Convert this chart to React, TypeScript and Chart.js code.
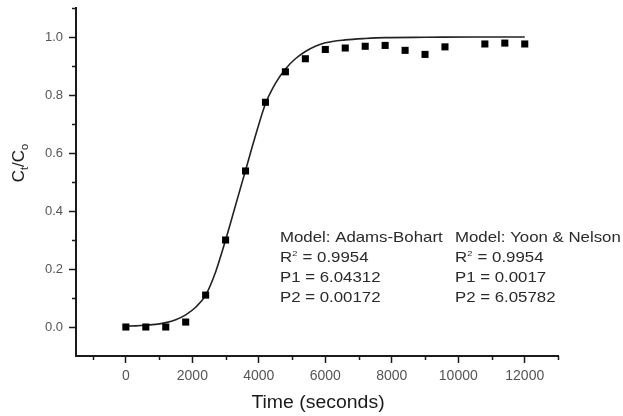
import React, { useEffect, useRef } from "react";
import { Chart, registerables } from "chart.js";

Chart.register(...registerables);

// Measured data points (time in seconds, Ct/Co)
const sampleTimes = [0, 600, 1200, 1800, 2400, 3000, 3600, 4200, 4800, 5400, 6000, 6600, 7200, 7800, 8400, 9000, 9600, 10800, 11400, 12000];
const sampleValues = [0.0, 0.0, 0.0, 0.017, 0.11, 0.30, 0.538, 0.775, 0.88, 0.925, 0.957, 0.962, 0.968, 0.971, 0.954, 0.94, 0.966, 0.976, 0.979, 0.976];

// Fitted model curve
const fitTimes = [0, 300, 600, 900, 1200, 1500, 1800, 2100, 2400, 2700, 3000, 3300, 3600, 3900, 4200, 4500, 4800, 5100, 5400, 5700, 6000, 6600, 7200, 7800, 9000, 10500, 12000];
const fitValues = [0.003, 0.004, 0.006, 0.009, 0.015, 0.025, 0.042, 0.068, 0.11, 0.19, 0.30, 0.42, 0.54, 0.66, 0.77, 0.84, 0.89, 0.925, 0.95, 0.968, 0.98, 0.99, 0.995, 0.998, 0.999, 1.0, 1.0];

// Axis ticks
const xMajorTicks = [0, 2000, 4000, 6000, 8000, 10000, 12000];
const xMinorTicks = [-1000, 1000, 3000, 5000, 7000, 9000, 11000, 13000];
const yMajorTicks = [0.0, 0.2, 0.4, 0.6, 0.8, 1.0];
const yMinorTicks = [0.1, 0.3, 0.5, 0.7, 0.9, 1.1];

// Annotation texts
const modelLeft = ["Model: Adams-Bohart", "R|2| = 0.9954", "P1 = 6.04312", "P2 = 0.00172"];
const modelRight = ["Model: Yoon & Nelson", "R|2| = 0.9954", "P1 = 0.0017", "P2 = 6.05782"];

const FONT = "'Liberation Sans', Arial, sans-serif";
const AXIS_COLOR = "#1a1a1a";

function drawStretched(ctx: CanvasRenderingContext2D, text: string, x: number, y: number, size: number, sx: number) {
  // supports "R|2| = ..." superscript syntax
  ctx.save();
  ctx.translate(x, y);
  ctx.scale(sx, 1);
  const parts = text.split("|");
  let cx = 0;
  parts.forEach((p, i) => {
    const sup = i % 2 === 1;
    ctx.font = `${sup ? size * 0.55 : size}px ${FONT}`;
    ctx.fillText(p, cx, sup ? -size * 0.42 : 0);
    cx += ctx.measureText(p).width + (sup ? 0.5 : 0);
  });
  ctx.restore();
}

const overlayPlugin = {
  id: "overlay",
  afterDraw(chart: any) {
    const ctx: CanvasRenderingContext2D = chart.ctx;
    const xs = chart.scales.x;
    const ys = chart.scales.y;
    const area = chart.chartArea;
    ctx.save();
    // minor ticks
    ctx.strokeStyle = AXIS_COLOR;
    ctx.lineWidth = 1.5;
    ctx.beginPath();
    xMinorTicks.forEach((v) => {
      const px = Math.round(xs.getPixelForValue(v)) + 0.5;
      ctx.moveTo(px, area.bottom);
      ctx.lineTo(px, area.bottom + 4);
    });
    yMinorTicks.forEach((v) => {
      const py = Math.round(ys.getPixelForValue(v)) + 0.5;
      ctx.moveTo(area.left, py);
      ctx.lineTo(area.left - 4, py);
    });
    ctx.stroke();

    // annotations
    ctx.fillStyle = "#2a2a2a";
    ctx.textBaseline = "alphabetic";
    ctx.textAlign = "left";
    const baselines = [242, 262, 282, 302];
    modelLeft.forEach((t, i) => drawStretched(ctx, t, 280, baselines[i], 14.5, 1.16));
    modelRight.forEach((t, i) => drawStretched(ctx, t, 455, baselines[i], 14.5, 1.16));

    // x title
    ctx.fillStyle = "#1a1a1a";
    ctx.font = `18px ${FONT}`;
    const title = "Time (seconds)";
    const w = ctx.measureText(title).width * 1.08;
    drawStretched(ctx, title, 318 - w / 2, 408, 18, 1.08);

    // y title Ct/Co
    ctx.save();
    ctx.translate(24, 163);
    ctx.rotate(-Math.PI / 2);
    const pieces: [string, number, number][] = [
      ["C", 17, 0],
      ["t", 11, 3.5],
      ["/C", 17, 0],
      ["o", 11, 3.5],
    ];
    let total = 0;
    pieces.forEach(([s, f]) => {
      ctx.font = `${f}px ${FONT}`;
      total += ctx.measureText(s).width;
    });
    let cx = -total / 2;
    pieces.forEach(([s, f, dy]) => {
      ctx.font = `${f}px ${FONT}`;
      ctx.fillText(s, cx, dy);
      cx += ctx.measureText(s).width;
    });
    ctx.restore();
    ctx.restore();
  },
};

export default function App() {
  const canvasRef = useRef<HTMLCanvasElement | null>(null);

  useEffect(() => {
    if (!canvasRef.current) return;
    const points = sampleTimes.map((t, i) => ({ x: t, y: sampleValues[i] }));
    const fit = fitTimes.map((t, i) => ({ x: t, y: fitValues[i] }));
    const chart = new Chart(canvasRef.current, {
      type: "scatter",
      data: {
        datasets: [
          {
            label: "Data",
            data: points,
            pointStyle: "rect",
            pointRadius: 5,
            backgroundColor: "#000",
            borderColor: "#000",
            borderWidth: 0,
            showLine: false,
          },
          {
            label: "Fit",
            data: fit,
            showLine: true,
            pointRadius: 0,
            borderColor: "#222",
            borderWidth: 1.6,
            cubicInterpolationMode: "monotone",
            fill: false,
          },
        ],
      },
      options: {
        responsive: false,
        animation: false,
        devicePixelRatio: 1,
        layout: { padding: { top: 8, right: 65, left: 0, bottom: 0 } },
        plugins: { legend: { display: false }, tooltip: { enabled: false } },
        scales: {
          x: {
            type: "linear",
            min: -1500,
            max: 13000,
            afterBuildTicks: (scale: any) => {
              scale.ticks = xMajorTicks.map((v) => ({ value: v }));
            },
            afterFit: (scale: any) => {
              scale.height = 60;
              scale.paddingLeft = 0;
              scale.paddingRight = 0;
            },
            grid: { drawOnChartArea: false, drawTicks: true, tickLength: 7, tickColor: AXIS_COLOR, tickWidth: 1.5 },
            border: { display: true, color: AXIS_COLOR, width: 2 },
            ticks: {
              autoSkip: false,
              maxRotation: 0,
              padding: 5,
              color: "#555",
              font: { family: FONT, size: 14 },
              callback: (v: any) => String(v),
            },
          },
          y: {
            type: "linear",
            min: -0.1,
            max: 1.1,
            afterBuildTicks: (scale: any) => {
              scale.ticks = yMajorTicks.map((v) => ({ value: v }));
            },
            afterFit: (scale: any) => {
              scale.width = 76;
              scale.paddingTop = 0;
              scale.paddingBottom = 0;
            },
            grid: { drawOnChartArea: false, drawTicks: true, tickLength: 7, tickColor: AXIS_COLOR, tickWidth: 1.5 },
            border: { display: true, color: AXIS_COLOR, width: 2 },
            ticks: {
              autoSkip: false,
              padding: 6,
              color: "#555",
              font: { family: FONT, size: 13 },
              callback: (v: any) => Number(v).toFixed(1),
            },
          },
        },
      },
      plugins: [overlayPlugin],
    });
    return () => chart.destroy();
  }, []);

  return (
    <div style={{ position: "fixed", left: 0, top: 0, width: 623, height: 416, background: "#fff" }}>
      <canvas ref={canvasRef} width={623} height={416} style={{ display: "block", width: 623, height: 416 }} />
    </div>
  );
}
